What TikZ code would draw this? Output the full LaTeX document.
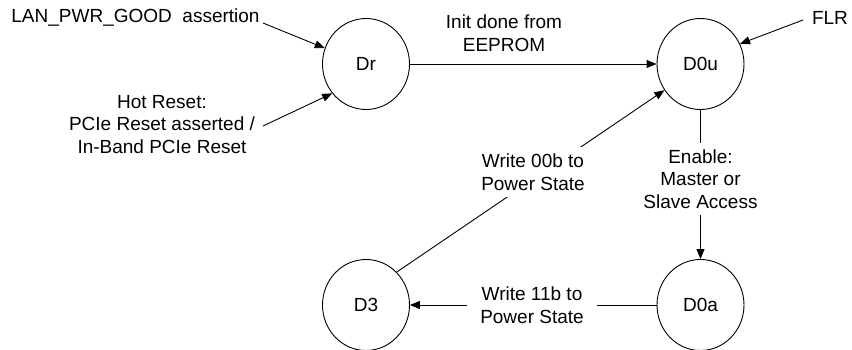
\documentclass[tikz,border=0pt]{standalone}
\usepackage{fontspec}
\setmainfont{Liberation Sans}
\usetikzlibrary{shapes.geometric,arrows.meta}
\begin{document}
\begin{tikzpicture}[x=1pt,y=-1pt,
  state/.style={ellipse,draw,line width=0.9pt,minimum width=87pt,minimum height=91pt,inner sep=0pt,font=\fontsize{19}{22.5}\selectfont},
  lbl/.style={align=center,font=\fontsize{19}{22.5}\selectfont,inner sep=0pt},
  masklbl/.style={lbl,fill=white,inner xsep=13pt,inner ysep=6.5pt},
  conn/.style={line width=0.9pt,-{Triangle[length=10pt,width=8pt]}},
  plainline/.style={line width=0.9pt}]
\useasboundingbox (0,0) rectangle (852,350);
% states
\node[state] (Dr)  at (366,64)    {Dr};
\node[state] (D0u) at (700.5,64)  {D0u};
\node[state] (D3)  at (366,305)   {D3};
\node[state] (D0a) at (700.5,305) {D0a};
% free ends
\coordinate (lanS) at (263,23);
\coordinate (hotS) at (263,126);
\coordinate (flrS) at (803,20);
% connectors
\draw[conn] (lanS) -- (Dr.159);
\draw[conn] (hotS) -- (Dr.221);
\draw[conn] (Dr) -- (D0u);
\draw[conn] (flrS) -- (D0u.27);
\draw[conn] (D3.47) -- (D0u.216);
\draw[conn] (D0u) -- (D0a);
\draw[conn] (D0a) -- (D3);
% labels
\node[lbl] (lan) at (135.5,18) {LAN\_PWR\_GOOD\ \ assertion};
\node[lbl] (hot) at (162,124.5) {Hot Reset:\\PCIe Reset asserted /\\In-Band PCIe Reset};
\node[lbl] (init) at (504,33) {Init done from\\EEPROM};
\node[lbl] (flr) at (830,18) {FLR};
\node[masklbl] (w00) at (533,172) {Write 00b to\\Power State};
\node[masklbl] (en) at (700.5,179) {Enable:\\Master or\\Slave Access};
\node[masklbl] (w11) at (532,305) {Write 11b to\\Power State};
\end{tikzpicture}
\end{document}
